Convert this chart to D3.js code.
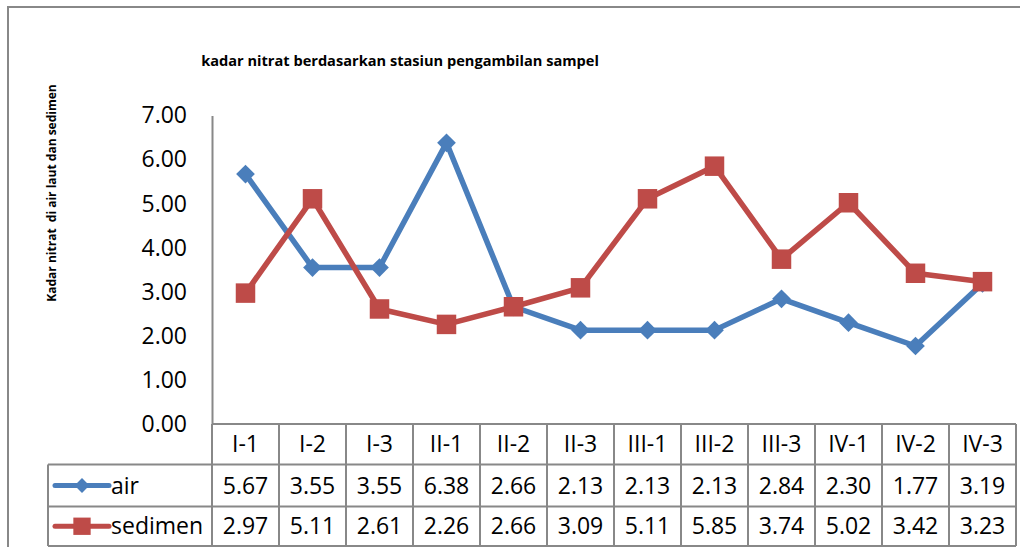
<!DOCTYPE html>
<html>
<head>
<meta charset="utf-8">
<script src="https://cdn.jsdelivr.net/npm/d3@7"></script>
<style>
  body { margin: 0; background: #fff; }
  svg { display: block; }
</style>
</head>
<body>
<div id="chart"></div>
<script>
// data
const categories = ["I-1", "I-2", "I-3", "II-1", "II-2", "II-3", "III-1", "III-2", "III-3", "IV-1", "IV-2", "IV-3"];
const airValues = [5.67, 3.55, 3.55, 6.38, 2.66, 2.13, 2.13, 2.13, 2.84, 2.30, 1.77, 3.19];
const sedimenValues = [2.97, 5.11, 2.61, 2.26, 2.66, 3.09, 5.11, 5.85, 3.74, 5.02, 3.42, 3.23];
const yTicks = [0, 1, 2, 3, 4, 5, 6, 7];

const series = [
    {name: "air", values: airValues, color: "#4A7EBB", marker: "diamond"},
    {name: "sedimen", values: sedimenValues, color: "#BE4B48", marker: "square"}
];

const width = 1020, height = 547;
const font = "'Open Sans', 'Noto Sans', sans-serif";
const gridColor = "#888";

const svg = d3.select("#chart").append("svg")
    .attr("width", width)
    .attr("height", height);

// outer chart frame
svg.append("rect")
    .attr("x", 8).attr("y", 7)
    .attr("width", 1030).attr("height", 560)
    .attr("fill", "none")
    .attr("stroke", gridColor)
    .attr("stroke-width", 2);

// plot area
const plot = {left: 212, right: 1016, top: 115.5, bottom: 424};

const x = d3.scaleBand()
    .domain(categories)
    .range([plot.left, plot.right]);

const y = d3.scaleLinear()
    .domain([0, 7])
    .range([plot.bottom, plot.top]);

const cx = d => x(d) + x.bandwidth() / 2;

// title
svg.append("text")
    .attr("x", 400).attr("y", 66)
    .attr("text-anchor", "middle")
    .attr("font-family", font)
    .attr("font-weight", "bold")
    .attr("font-size", 14.6)
    .text("kadar nitrat berdasarkan stasiun pengambilan sampel");

// y axis title
svg.append("text")
    .attr("transform", "translate(56,193) rotate(-90)")
    .attr("text-anchor", "middle")
    .attr("font-family", font)
    .attr("font-weight", "bold")
    .attr("font-size", 12)
    .style("white-space", "pre")
    .text("Kadar nitrat  di air laut dan sedimen");

// y axis
const yAxis = svg.append("g")
    .attr("transform", `translate(${plot.left},0)`)
    .call(d3.axisLeft(y)
        .tickValues(yTicks)
        .tickFormat(d3.format(".2f"))
        .tickSize(0)
        .tickPadding(25));

yAxis.select(".domain")
    .attr("stroke", gridColor)
    .attr("stroke-width", 2);

yAxis.selectAll("text")
    .attr("font-family", font)
    .attr("font-size", 23)
    .attr("fill", "#000");

// lines and markers
const line = d3.line()
    .x((d, i) => cx(categories[i]))
    .y(d => y(d));

const markerPath = {
    diamond: d3.symbol().type(d3.symbolSquare).size(175),
    square: d3.symbol().type(d3.symbolSquare).size(380)
};

series.forEach(s => {
    const g = svg.append("g");

    g.append("path")
        .datum(s.values)
        .attr("fill", "none")
        .attr("stroke", s.color)
        .attr("stroke-width", 5.5)
        .attr("stroke-linejoin", "round")
        .attr("d", line);

    g.selectAll("path.marker")
        .data(s.values)
        .join("path")
        .attr("class", "marker")
        .attr("fill", s.color)
        .attr("transform", (d, i) => `translate(${cx(categories[i])},${y(d)}) rotate(${s.marker === "diamond" ? 45 : 0})`)
        .attr("d", markerPath[s.marker]());
});

// data table
const rows = {catTop: 424, airTop: 464.5, sedTop: 506.5, bottom: 546, legendLeft: 48};
const table = svg.append("g")
    .attr("stroke", gridColor)
    .attr("stroke-width", 2);

// horizontal lines
table.append("line")
    .attr("x1", plot.left).attr("x2", plot.right)
    .attr("y1", rows.catTop).attr("y2", rows.catTop);
[rows.airTop, rows.sedTop, rows.bottom].forEach(yy => {
    table.append("line")
        .attr("x1", rows.legendLeft).attr("x2", plot.right)
        .attr("y1", yy).attr("y2", yy);
});

// vertical lines
table.append("line")
    .attr("x1", rows.legendLeft).attr("x2", rows.legendLeft)
    .attr("y1", rows.airTop).attr("y2", rows.bottom);
categories.forEach(c => {
    table.append("line")
        .attr("x1", x(c)).attr("x2", x(c))
        .attr("y1", rows.catTop).attr("y2", rows.bottom);
});
table.append("line")
    .attr("x1", plot.right).attr("x2", plot.right)
    .attr("y1", rows.catTop).attr("y2", rows.bottom);

// cell text
const cellText = (g, xx, yy, txt, anchor) => g.append("text")
    .attr("x", xx).attr("y", yy)
    .attr("dy", "0.35em")
    .attr("text-anchor", anchor || "middle")
    .attr("font-family", font)
    .attr("font-size", 23)
    .attr("fill", "#000")
    .text(txt);

const texts = svg.append("g");
categories.forEach(c => cellText(texts, cx(c), (rows.catTop + rows.airTop) / 2, c));

const rowMid = [(rows.airTop + rows.sedTop) / 2, (rows.sedTop + rows.bottom) / 2];
series.forEach((s, si) => {
    s.values.forEach((v, i) => cellText(texts, cx(categories[i]), rowMid[si], d3.format(".2f")(v)));

    // legend key
    const ky = rowMid[si];
    texts.append("line")
        .attr("x1", 55).attr("x2", 109)
        .attr("y1", ky).attr("y2", ky)
        .attr("stroke", s.color)
        .attr("stroke-width", 5)
        .attr("stroke-linecap", "round");
    texts.append("path")
        .attr("fill", s.color)
        .attr("transform", `translate(82,${ky}) rotate(${s.marker === "diamond" ? 45 : 0})`)
        .attr("d", d3.symbol().type(d3.symbolSquare).size(s.marker === "diamond" ? 110 : 300)());
    cellText(texts, 111, ky, s.name, "start");
});
</script>
</body>
</html>
